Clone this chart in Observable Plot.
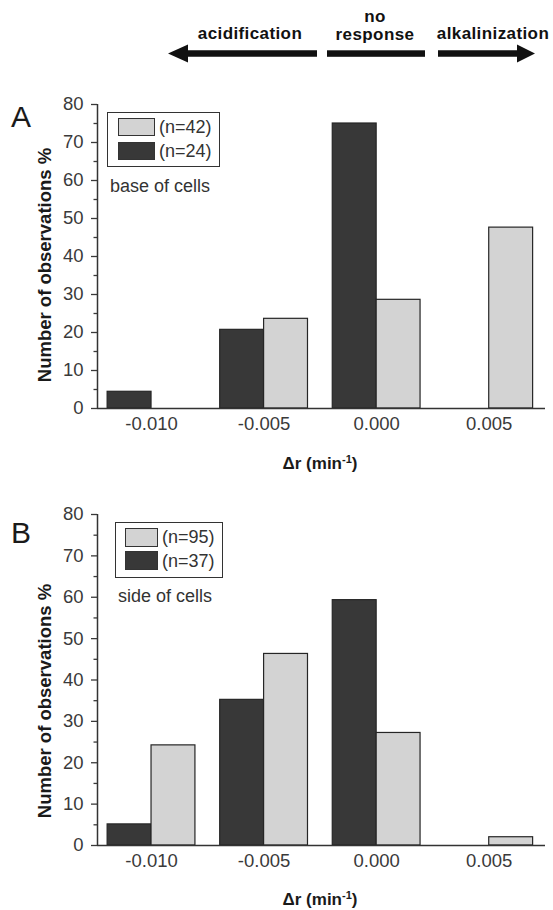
<!DOCTYPE html>
<html>
<head>
<meta charset="utf-8">
<script src="https://cdn.jsdelivr.net/npm/d3@7"></script>
<script src="https://cdn.jsdelivr.net/npm/@observablehq/plot@0.6"></script>
<style>
  html, body { margin: 0; padding: 0; background: #fff; }
  #wrap { position: relative; width: 553px; height: 910px; overflow: hidden;
          font-family: "Liberation Sans", Arial, Helvetica, sans-serif; color: #222; }
  .abs { position: absolute; white-space: nowrap; }
  .plot { position: absolute; left: 0; }
  .hdr { font-weight: bold; font-size: 17px; letter-spacing: 0.4px; fill: #111; }
  .letter { font-size: 30px; line-height: 30px; color: #1a1a1a; }
  .ylab { font-weight: bold; font-size: 18.5px; color: #1a1a1a; transform: translate(-50%, -50%) rotate(-90deg); }
  .xlab { font-weight: bold; font-size: 17px; color: #1a1a1a; transform: translate(-50%, -50%); }
  .xlab sup { font-size: 11px; vertical-align: 6px; line-height: 0; }
  .legbox { border: 1.5px solid #333; box-sizing: border-box; background: #fff; }
  .sw { border: 1.2px solid #333; box-sizing: border-box; }
  .legtxt { font-size: 18px; line-height: 20px; color: #333; }
</style>
</head>
<body>
<div id="wrap"></div>
<script>
// ---- data ----
const categories = [-0.010, -0.005, 0.000, 0.005];      // Δr bins (min^-1)
const baseDark  = [4.4, 20.7, 75.0, 0];                  // panel A, n=24
const baseLight = [0, 23.6, 28.6, 47.6];                 // panel A, n=42
const sideDark  = [5.1, 35.2, 59.3, 0];                  // panel B, n=37
const sideLight = [24.2, 46.3, 27.2, 2.0];               // panel B, n=95
const yMajorTicks = [0, 10, 20, 30, 40, 50, 60, 70, 80];
const yMinorTicks = [5, 15, 25, 35, 45, 55, 65, 75];
const xTicks = [-0.010, -0.005, 0.000, 0.005];
const legendA = ["(n=42)", "(n=24)"];
const legendB = ["(n=95)", "(n=37)"];
const xDomain = [-0.0124, 0.0075];
const yDomain = [0, 80];

const DARK = "#383838", LIGHT = "#d3d3d3";
const barW = 0.00195;

const wrap = document.getElementById("wrap");

// ---- header arrows ----
wrap.insertAdjacentHTML("beforeend", `
<svg class="abs" style="left:0;top:0" width="553" height="80">
  <polygon points="168,53.5 188,44.5 188,50.3 317,50.3 317,56.8 188,56.8 188,62.5" fill="#111"/>
  <rect x="327" y="50.3" width="98" height="6.5" fill="#111"/>
  <polygon points="535,53.5 517,44.5 517,50.3 438,50.3 438,56.8 517,56.8 517,62.5" fill="#111"/>
  <text class="hdr" x="250" y="39" text-anchor="middle">acidification</text>
  <text class="hdr" x="375" y="22" text-anchor="middle">no</text>
  <text class="hdr" x="375" y="40" text-anchor="middle">response</text>
  <text class="hdr" x="493" y="39" text-anchor="middle">alkalinization</text>
</svg>`);

function panel(top, height, marginBottom, dark, light) {
  const rows = [];
  categories.forEach((c, i) => {
    if (dark[i] > 0) rows.push({c, v: dark[i], s: "dark"});
    if (light[i] > 0) rows.push({c, v: light[i], s: "light"});
  });
  const chart = Plot.plot({
    width: 553,
    height,
    marginLeft: 97,
    marginRight: 8,
    marginTop: 16,
    marginBottom,
    style: {fontFamily: '"Liberation Sans", Arial, sans-serif', fontSize: "18.5px", color: "#3a3a3a", background: "#fff"},
    x: {domain: xDomain, label: null},
    y: {domain: yDomain, label: null},
    marks: [
      Plot.rect(rows, {
        x1: d => d.s === "dark" ? d.c - barW : d.c,
        x2: d => d.s === "dark" ? d.c : d.c + barW,
        y1: 0,
        y2: "v",
        fill: d => d.s === "dark" ? DARK : LIGHT,
        stroke: "#262626",
        strokeWidth: 1.2
      }),
      Plot.ruleY([0], {stroke: "#333", strokeWidth: 1.5}),
      Plot.ruleX([xDomain[0]], {y1: yDomain[0], y2: yDomain[1], stroke: "#333", strokeWidth: 1.5}),
      Plot.axisY({ticks: yMajorTicks, tickSize: 6, tickPadding: 8, tickFormat: d => String(d), label: null, strokeWidth: 1.3}),
      Plot.axisY({ticks: yMinorTicks, tickSize: 3.5, tickFormat: () => "", label: null, strokeWidth: 1.3}),
      Plot.axisX({ticks: xTicks, tickSize: 0, tickPadding: 8, tickFormat: d => d.toFixed(3), label: null})
    ]
  });
  chart.classList.add("plot");
  chart.style.top = top + "px";
  wrap.appendChild(chart);
}

panel(88, 390, 70, baseDark, baseLight);
panel(498, 412, 65, sideDark, sideLight);

function overlay(o) {
  wrap.insertAdjacentHTML("beforeend", `
  <div class="abs letter" style="left:11px;top:${o.letterTop}px">${o.letter}</div>
  <div class="abs ylab" style="left:45px;top:${o.ylabY}px">Number of observations %</div>
  <div class="abs xlab" style="left:320px;top:${o.xlabY}px">Δr (min<sup>-1</sup>)</div>
  <div class="abs legbox" style="left:${o.bx}px;top:${o.by}px;width:${o.bw}px;height:${o.bh}px"></div>
  <div class="abs sw" style="left:${o.sx}px;top:${o.s1}px;width:${o.sw}px;height:${o.sh}px;background:${LIGHT}"></div>
  <div class="abs sw" style="left:${o.sx}px;top:${o.s2}px;width:${o.sw}px;height:${o.sh}px;background:${DARK}"></div>
  <div class="abs legtxt" style="left:${o.tx}px;top:${o.s1 + o.sh / 2 - 10}px">${o.labels[0]}</div>
  <div class="abs legtxt" style="left:${o.tx}px;top:${o.s2 + o.sh / 2 - 10}px">${o.labels[1]}</div>
  <div class="abs legtxt" style="left:${o.nx}px;top:${o.ny - 10}px">${o.note}</div>`);
}

overlay({letter: "A", letterTop: 102, ylabY: 265, xlabY: 464,
  bx: 107, by: 112, bw: 113, bh: 55, sx: 118, sw: 37, sh: 18, s1: 117.5, s2: 141.5,
  tx: 159, labels: legendA, nx: 110, ny: 186, note: "base of cells"});
overlay({letter: "B", letterTop: 518, ylabY: 701, xlabY: 900,
  bx: 115, by: 522, bw: 108, bh: 56, sx: 125, sw: 33, sh: 19, s1: 527.5, s2: 551,
  tx: 162, labels: legendB, nx: 118, ny: 596, note: "side of cells"});
</script>
</body>
</html>
